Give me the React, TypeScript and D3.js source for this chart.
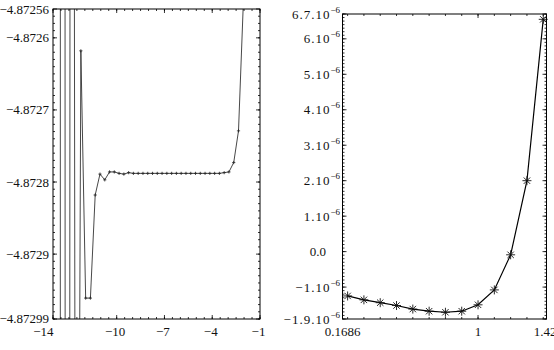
import * as d3 from "d3";
import React from "react";

// left panel: x values and energies (oscillating start, flat plateau, rise at the end)
const leftXs = [-13.75, -13.45, -13.15, -12.85, -12.55, -12.25, -11.95, -11.65, -11.35, -11.05,
  -10.75, -10.45, -10.15, -9.85, -9.55, -9.25, -8.95, -8.65, -8.35, -8.05,
  -7.75, -7.45, -7.15, -6.85, -6.55, -6.25, -5.95, -5.65, -5.35, -5.05,
  -4.75, -4.45, -4.15, -3.85, -3.55, -3.25, -2.95, -2.65, -2.35, -2.05, -1.75];
const leftYs = [-4.9144, -4.8551, -4.8804, -4.8695, -4.8742, -4.872618, -4.872961, -4.872961, -4.872818, -4.872789,
  -4.872797, -4.872786, -4.872786, -4.872788, -4.872789, -4.872787, -4.872788, -4.872788, -4.872788, -4.872788,
  -4.872788, -4.872788, -4.872788, -4.872788, -4.872788, -4.872788, -4.872788, -4.872788, -4.872788, -4.872788,
  -4.872788, -4.872788, -4.872788, -4.872788, -4.872788, -4.872787, -4.872786, -4.872773, -4.872729, -4.872554, -4.8721];

const leftXTicks = [-14, -10, -7, -4, -1];
const leftXLabels = ["\u221214", "\u221210", "\u22127", "\u22124", "\u22121"];
const leftYTicks = [-4.87256, -4.8726, -4.8727, -4.8728, -4.8729, -4.87299];
const leftYLabels = ["\u22124.87256", "\u22124.8726", "\u22124.8727", "\u22124.8728", "\u22124.8729", "\u22124.87299"];

// right panel: values in units of 1e-6
const rightXs = [0.2, 0.3, 0.4, 0.5, 0.6, 0.7, 0.8, 0.9, 1.0, 1.1, 1.2, 1.3, 1.4];
const rightYs = [-1.25, -1.36, -1.44, -1.52, -1.62, -1.68, -1.71, -1.68, -1.5, -1.08, -0.09, 2.0, 6.55];

const rightXTicks = [0.1686, 1, 1.42];
const rightXLabels = ["0.1686", "1", "1.42"];
const rightYTicks = [6.7, 6, 5, 4, 3, 2, 1, 0, -1, -1.9];
const rightYMantissa = ["6.7", "6", "5", "4", "3", "2", "1", "0.0", "\u22121", "\u22121.9"];

const FONT = "Liberation Serif, Times New Roman, serif";

export default function App() {
  // left panel geometry
  const L = { x0: 53, x1: 260, y0: 9, y1: 319 };
  const lx = d3.scaleLinear().domain([-14, -1]).range([L.x0, L.x1]);
  const ly = d3.scaleLinear().domain([-4.87299, -4.87256]).range([L.y1, L.y0]);

  // right panel geometry
  const R = { x0: 342.5, x1: 546.5, y0: 14, y1: 319 };
  const rx = d3.scaleLinear().domain([0.1686, 1.42]).range([R.x0, R.x1]);
  const ry = d3.scaleLinear().domain([-1.9, 6.7]).range([R.y1, R.y0]);

  const leftPts = leftXs.map((x, i) => [x, leftYs[i]] as [number, number]);
  const rightPts = rightXs.map((x, i) => [x, rightYs[i]] as [number, number]);

  const leftLine = d3.line<[number, number]>().x(d => lx(d[0])).y(d => ly(d[1]));
  const rightLine = d3.line<[number, number]>().x(d => rx(d[0])).y(d => ry(d[1]));

  // minor ticks
  const lxMinor = d3.range(-14, -0.99, 0.5);
  const lyMinor = d3.range(-4.87299, -4.87256, 0.00001);
  const rxMinor = d3.range(0.2, 1.41, 0.1);
  const ryMinor = d3.range(-1.9, 6.71, 0.1);

  const tickMarks = (P: any, xs: number[], ys: number[], sx: any, sy: any, len: number, key: string) => (
    <g key={key} stroke="#000" strokeWidth={0.8}>
      {xs.map((v, i) => (
        <g key={"x" + i}>
          <line x1={sx(v)} x2={sx(v)} y1={P.y1} y2={P.y1 - len} />
          <line x1={sx(v)} x2={sx(v)} y1={P.y0} y2={P.y0 + len} />
        </g>
      ))}
      {ys.map((v, i) => (
        <g key={"y" + i}>
          <line x1={P.x0} x2={P.x0 + len} y1={sy(v)} y2={sy(v)} />
          <line x1={P.x1} x2={P.x1 - len} y1={sy(v)} y2={sy(v)} />
        </g>
      ))}
    </g>
  );

  return (
    <svg width={554} height={350} style={{ position: "absolute", left: 0, top: 0, background: "#fff" }}
      fontFamily={FONT} fontSize={13}>
      <defs>
        <clipPath id="clipL"><rect x={L.x0} y={L.y0} width={L.x1 - L.x0} height={L.y1 - L.y0} /></clipPath>
        <clipPath id="clipR"><rect x={R.x0 - 5} y={R.y0 - 5} width={R.x1 - R.x0 + 10} height={R.y1 - R.y0 + 10} /></clipPath>
      </defs>

      {/* left panel */}
      <g clipPath="url(#clipL)">
        <path d={leftLine(leftPts) || ""} fill="none" stroke="#333" strokeWidth={0.9} />
        {leftPts.map((d, i) => (
          <path key={i} d={`M${lx(d[0]) - 1.6},${ly(d[1])}h3.2M${lx(d[0])},${ly(d[1]) - 1.6}v3.2`}
            stroke="#222" strokeWidth={0.8} />
        ))}
      </g>
      {tickMarks(L, lxMinor, lyMinor, lx, ly, 2, "lminor")}
      {tickMarks(L, leftXTicks, leftYTicks, lx, ly, 4, "lmajor")}
      <rect x={L.x0} y={L.y0} width={L.x1 - L.x0} height={L.y1 - L.y0} fill="none" stroke="#000" strokeWidth={1} />
      {leftYTicks.map((v, i) => (
        <text key={i} x={49} y={ly(v) - (i === leftYTicks.length - 1 ? 1 : 0)} dy="0.35em" textAnchor="end" fill="#111">{leftYLabels[i]}</text>
      ))}
      {leftXTicks.map((v, i) => (
        <text key={i} x={i === 0 ? lx(v) + 0.5 : lx(v) - 1.5} y={336} textAnchor={i === 0 ? "end" : "middle"} fill="#111">
          {leftXLabels[i]}
        </text>
      ))}

      {/* right panel */}
      <g clipPath="url(#clipR)">
        <path d={rightLine(rightPts) || ""} fill="none" stroke="#000" strokeWidth={1.2} />
        {rightPts.map((d, i) => {
          const cx = rx(d[0]), cy = ry(d[1]), r = 4.5, q = 3.2;
          return (
            <path key={i}
              d={`M${cx - r},${cy}h${2 * r}M${cx},${cy - r}v${2 * r}M${cx - q},${cy - q}l${2 * q},${2 * q}M${cx - q},${cy + q}l${2 * q},${-2 * q}`}
              stroke="#111" strokeWidth={0.9} />
          );
        })}
      </g>
      {tickMarks(R, rxMinor, ryMinor, rx, ry, 2, "rminor")}
      {tickMarks(R, rightXTicks, rightYTicks, rx, ry, 4, "rmajor")}
      <rect x={R.x0} y={R.y0} width={R.x1 - R.x0} height={R.y1 - R.y0} fill="none" stroke="#000" strokeWidth={1} />
      {rightYTicks.map((v, i) => {
        const m = rightYMantissa[i];
        if (v === 0) {
          return <text key={i} x={326} y={ry(v)} dy="0.35em" textAnchor="end" fill="#111">{m}</text>;
        }
        return (
          <text key={i} x={340} y={ry(v)} dy="0.35em" textAnchor="end" fill="#111">
            <tspan letterSpacing={1}>{m + ".10"}</tspan>
            <tspan dy={-6} fontSize={9}>{"\u22126"}</tspan>
          </text>
        );
      })}
      {rightXTicks.map((v, i) => (
        <text key={i} x={i === 2 ? rx(v) - 1.5 : rx(v)} y={336} textAnchor="middle" fill="#111">{rightXLabels[i]}</text>
      ))}
    </svg>
  );
}
